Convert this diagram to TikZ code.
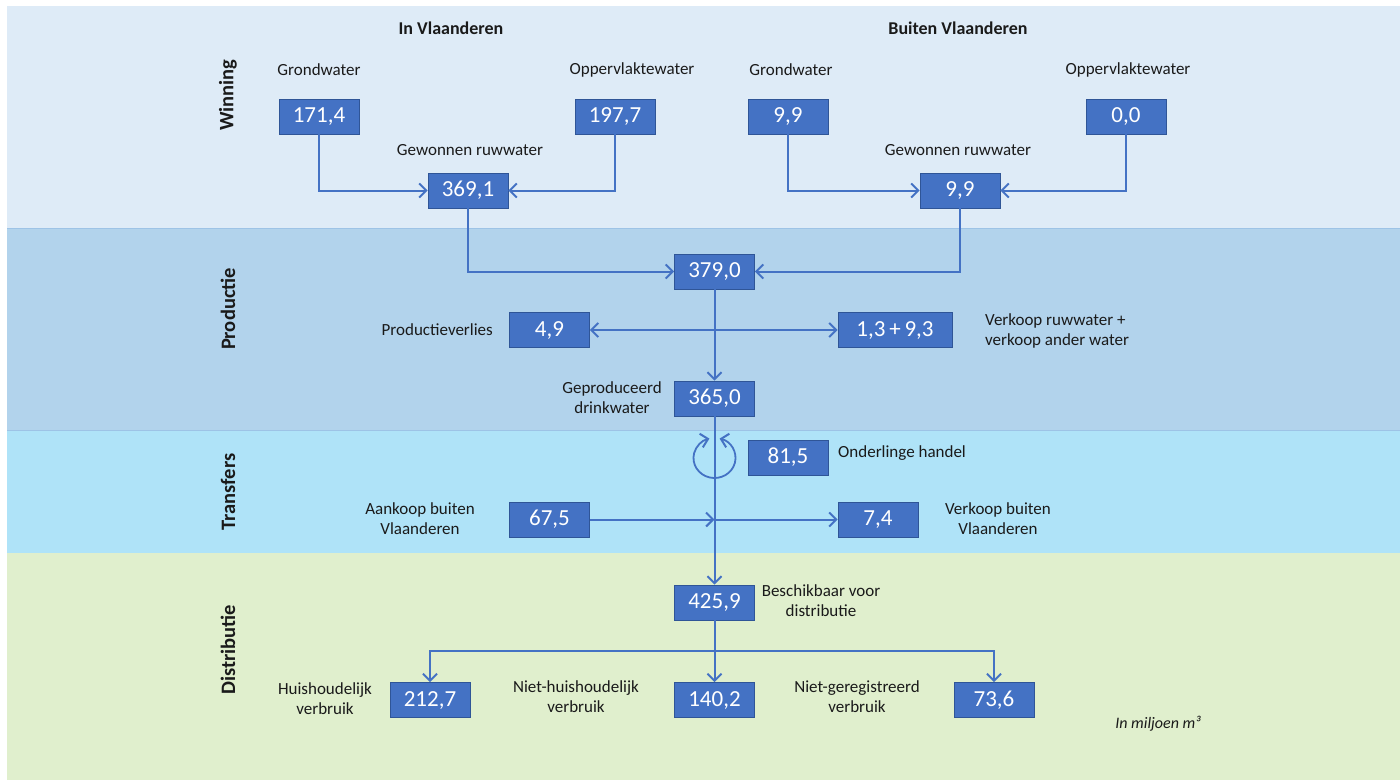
\documentclass[tikz,border=0pt]{standalone}
\usepackage{fontspec}
\setmainfont{Carlito}
\usetikzlibrary{arrows.meta}
\definecolor{boxblue}{HTML}{4472C4}
\definecolor{boxedge}{HTML}{2F5597}
\definecolor{linkblue}{HTML}{4472C4}
\definecolor{bandA}{HTML}{DEEBF7}
\definecolor{bandB}{HTML}{B2D3EC}
\definecolor{bandC}{HTML}{AFE3F8}
\definecolor{bandD}{HTML}{E0EFCD}
\definecolor{bandedge}{HTML}{9DC3E6}
\definecolor{txt}{HTML}{1A1A1A}
\begin{document}
\begin{tikzpicture}[x=1pt,y=-1pt,
  box/.style={rectangle, fill=boxblue, draw=boxedge, line width=0.8pt, minimum width=80pt, minimum height=35pt, inner sep=0pt, text=white, font=\fontsize{23}{26}\selectfont},
  lbl/.style={align=center, text=txt, inner sep=0pt, font=\fontsize{17}{20}\selectfont},
  head/.style={text=txt, inner sep=0pt, font=\fontsize{18}{21}\selectfont\bfseries},
  side/.style={text=txt, inner sep=0pt, rotate=90, font=\fontsize{20.5}{23}\selectfont\bfseries},
  link/.style={draw=linkblue, line width=2pt},
  arr/.style={link, -{Straight Barb[length=7pt,width=14pt,line width=2pt]}},
  arrboth/.style={link, {Straight Barb[length=7pt,width=14pt,line width=2pt]}-{Straight Barb[length=7pt,width=14pt,line width=2pt]}}
]
\useasboundingbox (0,0) rectangle (1400,780);
\fill[white] (0,0) rectangle (1400,780);
% bands
\fill[bandA] (7,6) rectangle (1400,228);
\fill[bandB] (7,228) rectangle (1400,430);
\fill[bandC] (7,430) rectangle (1400,553);
\fill[bandD] (7,553) rectangle (1400,780);
\draw[bandedge, line width=1pt] (7,228) -- (1400,228);
\draw[bandedge, line width=1pt] (7,430) -- (1400,430);

% headings
\node[head] (hin) at (451,28) {In Vlaanderen};
\node[head] (hout) at (958,28) {Buiten Vlaanderen};
\node[side] (sw) at (228,95) {Winning};
\node[side] (sp) at (228,309) {Productie};
\node[side] (st) at (228,492) {Transfers};
\node[side] (sd) at (228,650) {Distributie};

% boxes
\node[box] (g1) at (319,116.5) {171,4};
\node[box] (o1) at (615,116.5) {197,7};
\node[box] (g2) at (788,116.5) {9,9};
\node[box] (o2) at (1126,116.5) {0,0};
\node[box] (r1) at (468,190.5) {369,1};
\node[box] (r2) at (960,190.5) {9,9};
\node[box] (tot) at (714.5,271.5) {379,0};
\node[box] (loss) at (549.5,330) {4,9};
\node[box, minimum width=114pt] (sale) at (895,330) {1,3\,+\,9,3};
\node[box] (prod) at (714.5,398.5) {365,0};
\node[box] (trade) at (788,457.5) {81,5};
\node[box] (buy) at (549.5,519.5) {67,5};
\node[box] (sell) at (878,519.5) {7,4};
\node[box] (avail) at (714.5,602.5) {425,9};
\node[box] (hh) at (430,700) {212,7};
\node[box] (nh) at (714.5,700) {140,2};
\node[box] (nr) at (994,700) {73,6};

% labels
\node[lbl] (lg1) at (319,70) {Grondwater};
\node[lbl] (lo1) at (632,70) {Oppervlaktewater};
\node[lbl] (lg2) at (791,70) {Grondwater};
\node[lbl] (lo2) at (1128,70) {Oppervlaktewater};
\node[lbl] (lr1) at (470,150) {Gewonnen ruwwater};
\node[lbl] (lr2) at (958,150) {Gewonnen ruwwater};
\node[lbl, anchor=east] (lloss) at (493,330) {Productieverlies};
\node[lbl, anchor=west, align=left] (lsale) at (985,331) {Verkoop ruwwater +\\verkoop ander water};
\node[lbl] (lprod) at (612,398) {Geproduceerd\\drinkwater};
\node[lbl, anchor=west] (ltrade) at (838,453) {Onderlinge handel};
\node[lbl] (lbuy) at (420,519) {Aankoop buiten\\Vlaanderen};
\node[lbl] (lsell) at (998,519) {Verkoop buiten\\Vlaanderen};
\node[lbl] (lavail) at (821,601) {Beschikbaar voor\\distributie};
\node[lbl] (lhh) at (325,699) {Huishoudelijk\\verbruik};
\node[lbl] (lnh) at (576,697) {Niet-huishoudelijk\\verbruik};
\node[lbl] (lnr) at (857,697) {Niet-geregistreerd\\verbruik};
\node[text=txt, inner sep=0pt, font=\fontsize{16}{18}\selectfont\itshape] (unit) at (1158,724) {In miljoen m³};

% connectors: winning
\draw[arr] (g1.south) |- (r1.west);
\draw[arr] (o1.south) |- (r1.east);
\draw[arr] (g2.south) |- (r2.west);
\draw[arr] (o2.south) |- (r2.east);
\draw[arr] (r1.south) |- (tot.west);
\draw[arr] (r2.south) |- (tot.east);
% productie
\draw[arr] (tot.south) -- (prod.north);
\draw[arrboth] (loss.east) -- (sale.west);
% transfers
\coordinate (mid) at (714.5,519.5);
\coordinate (loopc) at (714.5,458);
\coordinate (split) at (714.5,651);
\draw[arr] (prod.south) -- (avail.north);
\draw[arr] (buy.east) -- (mid);
\draw[arr] (mid) -- (sell.west);
\draw[arrboth, line width=1.8pt] (loopc) ++(284:21 and 20) arc[start angle=284, end angle=616, x radius=21, y radius=20];
% distributie
\draw[link] (avail.south) -- (split);
\draw[arr] (split) -| (hh.north);
\draw[arr] (split) -| (nr.north);
\draw[arr] (split) -- (nh.north);
\end{tikzpicture}
\end{document}
